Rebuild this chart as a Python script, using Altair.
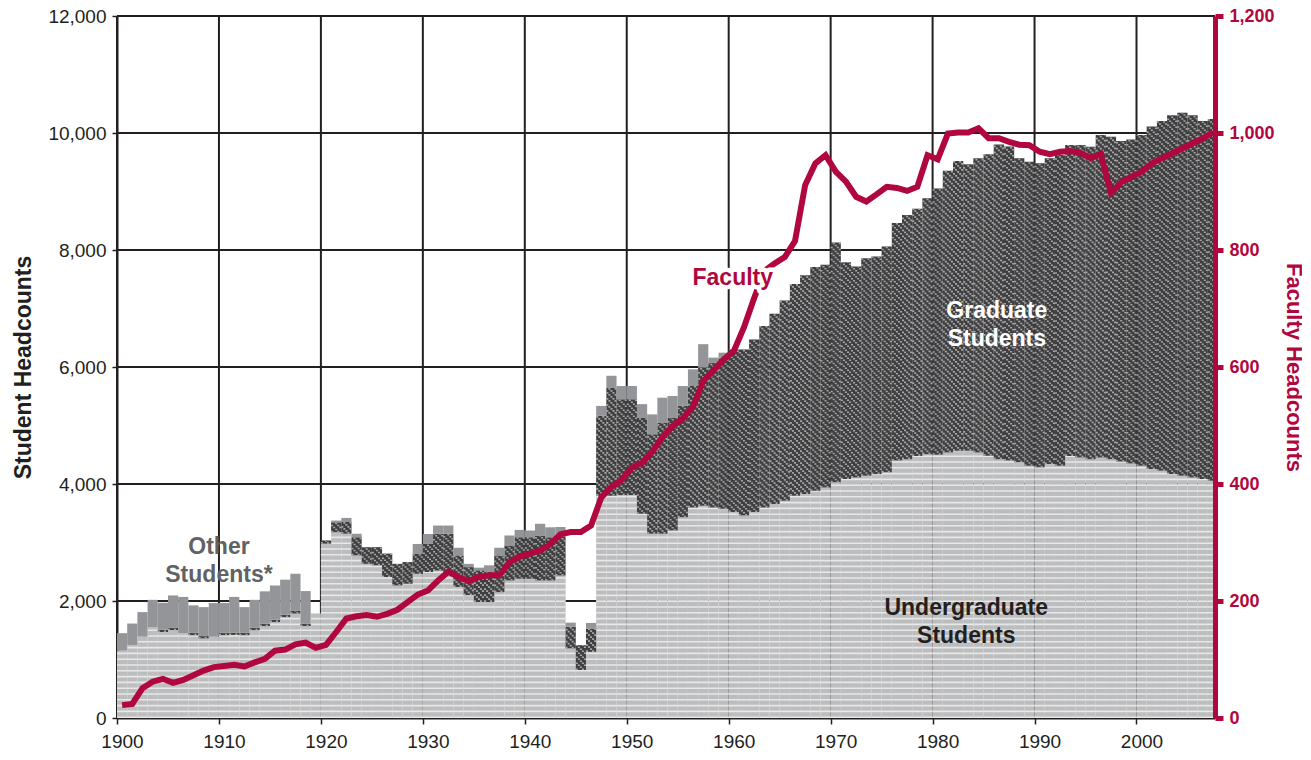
import altair as alt
import pandas as pd

years = list(range(1900, 2008))

undergrad = [
    1150, 1245, 1390, 1550, 1470, 1500, 1450, 1415, 1360, 1390,
    1415, 1420, 1415, 1500, 1570, 1640, 1725, 1785, 1570, 1785,
    2980, 3175, 3150, 2780, 2635, 2610, 2410, 2265, 2295, 2465,
    2495, 2520, 2470, 2240, 2100, 1985, 1985, 2150, 2350, 2380,
    2380, 2350, 2350, 2435, 1190, 820, 1130, 3800, 3800, 3810,
    3810, 3490, 3150, 3150, 3205, 3430, 3600, 3630, 3600, 3575,
    3520, 3460, 3520, 3600, 3660, 3715, 3800, 3830, 3885, 3940,
    4030, 4085, 4110, 4140, 4170, 4200, 4400, 4425, 4480, 4510,
    4500, 4540, 4570, 4570, 4540, 4485, 4425, 4400, 4370, 4310,
    4285, 4340, 4310, 4480, 4455, 4425, 4455, 4425, 4385, 4350,
    4310, 4255, 4225, 4170, 4140, 4110, 4085, 4055,
]

graduate = [
    0, 0, 0, 0, 40, 40, 0, 40, 40, 0,
    40, 40, 40, 40, 40, 40, 40, 45, 40, 0,
    55, 170, 200, 310, 285, 310, 400, 370, 370, 340,
    480, 630, 680, 540, 480, 540, 510, 630, 600, 710,
    710, 770, 740, 660, 370, 425, 400, 1365, 1850, 1640,
    1640, 1645, 1700, 1900, 1930, 1905, 2075, 2360, 2475, 2585,
    2780, 2840, 2950, 3100, 3250, 3420, 3620, 3740, 3825, 3810,
    4100, 3705, 3610, 3720, 3720, 3860, 4060, 4175, 4225, 4375,
    4550, 4815, 4950, 4895, 5030, 5150, 5380, 5370, 5200, 5200,
    5200, 5230, 5315, 5315, 5340, 5340, 5510, 5510, 5480, 5540,
    5655, 5855, 5980, 6135, 6205, 6195, 6120, 6185,
]

other = [
    300, 370, 420, 470, 460, 555, 620, 470, 495, 575,
    510, 610, 440, 480, 555, 585, 600, 636, 560, 0,
    0, 30, 70, 60, 0, 0, 0, 0, 0, 170,
    170, 140, 140, 130, 55, 45, 115, 130, 170, 125,
    115, 200, 170, 170, 70, 0, 95, 170, 200, 225,
    225, 230, 340, 425, 370, 340, 285, 400, 85, 85,
    0, 0, 0, 0, 0, 0, 0, 0, 0, 0,
    0, 0, 0, 0, 0, 0, 0, 0, 0, 0,
    0, 0, 0, 0, 0, 0, 0, 0, 0, 0,
    0, 0, 0, 0, 0, 0, 0, 0, 0, 0,
    0, 0, 0, 0, 0, 0, 0, 0,
]

faculty = [
    22, 24, 51, 62, 67, 60, 65, 73, 81, 87,
    89, 91, 88, 95, 101, 115, 117, 126, 129, 120,
    125, 147, 170, 174, 176, 173, 178, 185, 198, 211,
    218, 235, 250, 241, 234, 241, 244, 244, 266, 276,
    281, 286, 297, 314, 318, 318, 329, 377, 395, 407,
    428, 436, 455, 480, 499, 512, 532, 576, 594, 613,
    627, 668, 718, 764, 777, 788, 815, 911, 948, 962,
    934, 917, 891, 883, 895, 908, 906, 901, 908, 962,
    955, 999, 1001, 1001, 1008, 991, 991, 985, 980, 979,
    968, 964, 968, 969, 966, 957, 964, 897, 916, 925,
    934, 948, 957, 965, 974, 982, 991, 1001,
]

x_ticks = [1900, 1910, 1920, 1930, 1940, 1950, 1960, 1970, 1980, 1990, 2000]
student_ticks = [0, 2000, 4000, 6000, 8000, 10000, 12000]
faculty_ticks = [0, 200, 400, 600, 800, 1000, 1200]

label_text = ["Other\nStudents*", "Faculty", "Graduate\nStudents", "Undergraduate\nStudents"]
label_year = [1910.0, 1960.4, 1986.3, 1983.3]
label_value = [2930, 7517, 6955, 1884]
label_color = ["#616264", "#b0073e", "#ffffff", "#231f20"]

CRIMSON = "#b0073e"
INK = "#231f20"
FONT = "Liberation Sans"

df = pd.DataFrame({"year": years, "ug": undergrad, "grad": graduate,
                   "other": other, "faculty": faculty})
df["x0"] = df["year"]
df["x1"] = df["year"] + 1
df["xm"] = df["year"] + 0.5
df["base"] = 0
df["g0"] = df["ug"]
df["g1"] = df["ug"] + df["grad"]
df["o1"] = df["g1"] + df["other"]

labels = pd.DataFrame({"text": label_text, "year": label_year,
                       "value": label_value, "color": label_color})
xgrid = pd.DataFrame({"t": x_ticks})
ygrid = pd.DataFrame({"t": student_ticks})

xs = alt.Scale(domain=[1900, 2007.7], nice=False, zero=False)
ys = alt.Scale(domain=[0, 12000], nice=False)
fs = alt.Scale(domain=[0, 1200], nice=False)

x_axis = alt.Axis(values=x_ticks, format="d", title=None, grid=False,
                  domainColor=INK, domainWidth=2, tickColor=INK, tickSize=6,
                  tickWidth=1.5, labelFontSize=19, labelColor=INK,
                  labelPadding=8, labelFont=FONT, labelFlush=False,
                  labelOffset=5, zindex=0)
y_axis = alt.Axis(values=student_ticks, format=",d", title="Student Headcounts",
                  grid=False, domainColor=INK, domainWidth=2, tickColor=INK,
                  tickSize=5, tickWidth=1.5, labelFontSize=19, labelColor=INK,
                  labelPadding=6, labelFont=FONT, titleFont=FONT,
                  titleFontSize=23, titleFontWeight="bold", titleColor=INK,
                  titlePadding=12, zindex=0)


def X(field):
    return alt.X(field, scale=xs, axis=x_axis)


def Y(field):
    return alt.Y(field, scale=ys, axis=y_axis)


grid_v = alt.Chart(xgrid).mark_rule(color=INK, strokeWidth=2).encode(x=X("t:Q"))
grid_h = alt.Chart(ygrid).mark_rule(color=INK, strokeWidth=2).encode(y=Y("t:Q"))

base = alt.Chart(df)

ug_rect = base.mark_rect(color="#bcbdbf", clip=True).encode(
    x=X("x0:Q"), x2="x1:Q", y=Y("base:Q"), y2="g0:Q")

ug_stripes = base.mark_rule(strokeWidth=10.2, strokeDash=[1.6, 4.2],
                            color="#e8e8e8", strokeCap="butt", clip=True).encode(
    x=X("xm:Q"), y=Y("base:Q"), y2="g0:Q")

grad_rect = base.mark_rect(color="#3f3f41", clip=True).encode(
    x=X("x0:Q"), x2="x1:Q", y=Y("g0:Q"), y2="g1:Q")

grad_stripes = []
for k in range(5):
    grad_stripes.append(
        base.mark_rule(strokeWidth=2.04, xOffset=(k - 2) * 2.04,
                       strokeDash=[1.6, 4.4], strokeDashOffset=2 * k,
                       color="#a6a6a6", strokeCap="butt", clip=True).encode(
            x=X("xm:Q"), y=Y("g0:Q"), y2="g1:Q"))

other_rect = base.mark_rect(color="#939598", clip=True).encode(
    x=X("x0:Q"), x2="x1:Q", y=Y("g1:Q"), y2="o1:Q")

students = alt.layer(grid_v, grid_h, ug_rect, ug_stripes, grad_rect,
                     *grad_stripes, other_rect)

faculty_line = base.mark_line(color=CRIMSON, strokeWidth=6, clip=True).encode(
    x=X("xm:Q"),
    y=alt.Y("faculty:Q", scale=fs,
            axis=alt.Axis(orient="right", values=faculty_ticks, format=",d",
                          title="Faculty Headcounts", titleAngle=90,
                          titleFontSize=22, titleFontWeight="bold",
                          titleColor=CRIMSON, titleFont=FONT, titlePadding=7,
                          grid=False, domainColor=CRIMSON, domainWidth=5,
                          tickColor=CRIMSON, tickWidth=5, tickSize=8,
                          labelFontSize=18, labelFontWeight="bold",
                          labelColor=CRIMSON, labelFont=FONT, labelPadding=6,
                          zindex=1)))

lab = alt.Chart(labels)
halo = lab.transform_filter(alt.datum.text == "Faculty").mark_text(
    font=FONT, fontSize=23, fontWeight="bold", stroke="white", strokeWidth=9,
    strokeJoin="round", fill="white", lineBreak="\n", lineHeight=28).encode(
    x=X("year:Q"), y=alt.Y("value:Q", scale=ys, axis=None), text="text:N")
texts = lab.mark_text(font=FONT, fontSize=23, fontWeight="bold",
                      lineBreak="\n", lineHeight=28).encode(
    x=X("year:Q"), y=alt.Y("value:Q", scale=ys, axis=None), text="text:N",
    color=alt.Color("color:N", scale=None))
annotations = alt.layer(halo, texts)

chart = alt.layer(students, faculty_line, annotations).resolve_scale(
    y="independent").properties(
    width=1098, height=702,
    autosize=alt.AutoSizeParams(type="none"),
    padding={"left": 109, "top": 8, "right": 87, "bottom": 34},
    background="white",
).configure_view(stroke=None)

chart.save("out.html", embed_options={"renderer": "svg", "actions": False})
